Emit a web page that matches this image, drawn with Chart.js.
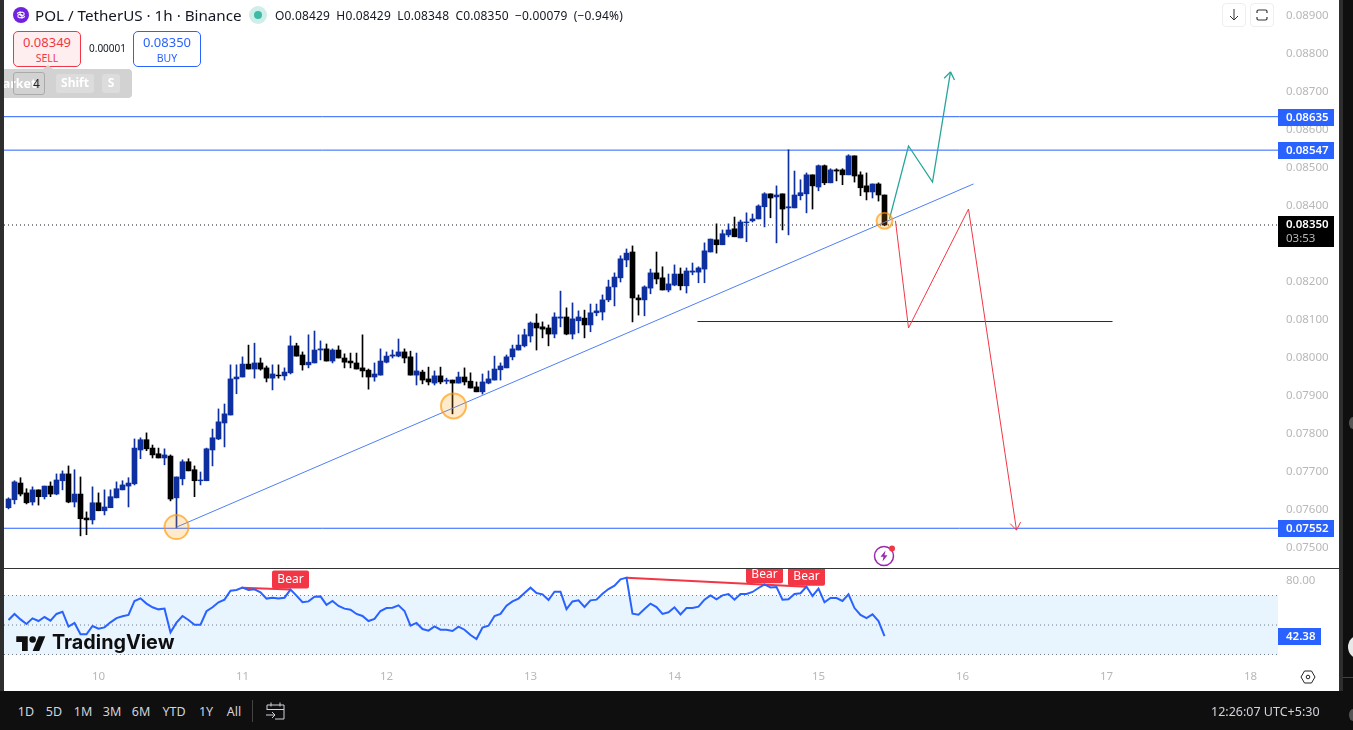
<!DOCTYPE html>
<html>
<head>
<meta charset="utf-8">
<script src="https://cdn.jsdelivr.net/npm/chart.js"></script>
<style>
	html, body { margin: 0; padding: 0; background: #fff; overflow: hidden; }
	body { width: 1353px; height: 730px; position: relative; font-family: "Noto Sans", sans-serif; color: #131722; }
	.abs { position: absolute; white-space: nowrap; }
	canvas { position: absolute; display: block; }
	#sell, #buy { top: 31px; width: 66px; height: 32px; border-radius: 5px; text-align: center; font-size: 12px; line-height: 14px; padding-top: 2px; }
	#sell { left: 13px; border: 1px solid #f23645; background: #ffeeef; color: #f23645; }
	#buy { left: 133px; border: 1px solid #2962ff; background: #fff; color: #2962ff; }
	#sell b, #buy b { display: block; font-weight: 400; font-size: 13px; line-height: 17px; }
	#sell span, #buy span { font-size: 10.5px; }
	.key { top: 74px; height: 19px; line-height: 18px; background: #dcdcdc; border-radius: 3px; color: #fff; font-size: 12px; font-weight: 700; text-align: center; }
	.btn { top: 3px; width: 22px; height: 22px; border: 1px solid #eee; border-radius: 4px; background: #fff; }
	.range { top: 703px; font-size: 12.5px; color: #d1d4dc; transform: translateX(-50%); }
</style>
</head>
<body>
<canvas id="price" width="1335" height="568" style="left:4px;top:0"></canvas>
<canvas id="rsi" width="1335" height="122" style="left:4px;top:569px"></canvas>

<!-- window frame -->
<div class="abs" style="left:0;top:0;width:4px;height:691px;background:#2e2e2e"></div>
<div class="abs" style="left:1339px;top:0;width:4px;height:691px;background:#2e2e2e"></div>
<div class="abs" style="left:1343px;top:0;width:10px;height:730px;background:#0f0f0f"></div>
<div class="abs" style="left:0;top:691px;width:1343px;height:39px;background:#0f0f0f"></div>
<div class="abs" style="left:4px;top:568px;width:1335px;height:1px;background:#333"></div>
<div class="abs" style="left:1349px;top:417px;width:8px;height:12px;border-radius:50%;background:#555"></div>
<div class="abs" style="left:1348px;top:635px;width:24px;height:24px;border-radius:50%;background:#e8e8e8"></div>
<div class="abs" style="left:1343px;top:677px;width:10px;height:1px;background:#444"></div>
<div class="abs" style="left:1349px;top:709px;width:8px;height:12px;border-radius:50%;background:#555"></div>

<!-- legend -->
<svg class="abs" style="left:13px;top:7px" width="16" height="16" viewBox="0 0 16 16">
	<circle cx="8" cy="8" r="8" fill="#6f23e0"/>
	<path d="M4 6.5l3-1.5v3l2 1 2-1v-2l-2-1-2 1M12 9.5l-3 1.5v-3l-2-1-2 1v2l2 1 2-1" fill="none" stroke="#fff" stroke-width="1.1"/>
</svg>
<div class="abs" id="title" style="left:35px;top:5px;font-size:15.2px;line-height:20px">POL / TetherUS · 1h · Binance</div>
<div class="abs" style="left:249px;top:6px;width:18px;height:18px;border-radius:50%;background:#cfeee8"></div>
<div class="abs" style="left:254px;top:11px;width:8px;height:8px;border-radius:50%;background:#3dbba6"></div>
<div class="abs" id="ohlc" style="left:275px;top:7px;font-size:12px;line-height:17px;word-spacing:3px;letter-spacing:.16px">O0.08429 H0.08429 L0.08348 C0.08350 −0.00079 (−0.94%)</div>

<div class="abs" id="sell"><b>0.08349</b><span>SELL</span></div>
<div class="abs" style="left:89px;top:41px;font-size:10px;line-height:14px">0.00001</div>
<div class="abs" id="buy"><b>0.08350</b><span>BUY</span></div>

<!-- order bar -->
<div class="abs" style="left:4px;top:69px;width:128px;height:29px;background:#d2d2d2;border-radius:0 4px 4px 0;overflow:hidden">
	<div class="abs" style="left:-13px;top:6px;font-size:12.5px;font-weight:700;color:#fff">Market</div>
	<div class="abs" style="left:9px;top:3px;width:30px;height:21px;border:1px solid #aaa;border-radius:3px;font-size:12px;line-height:21px;text-indent:19px;color:#222">4</div>
</div>
<div class="abs" style="left:43px;top:65px;width:0;height:0;border-left:5px solid transparent;border-right:5px solid transparent;border-bottom:4px solid #d2d2d2"></div>
<div class="abs key" style="left:56px;width:38px">Shift</div>
<div class="abs key" style="left:102px;width:18px">S</div>

<!-- top right buttons -->
<div class="abs btn" style="left:1222px">
	<svg width="22" height="22" viewBox="0 0 22 22"><path d="M11 5v11M7 12l4 4 4-4" fill="none" stroke="#333" stroke-width="1"/></svg>
</div>
<div class="abs btn" style="left:1250px">
	<svg width="22" height="22" viewBox="0 0 22 22"><path d="M6 9V7.5A1.5 1.5 0 0 1 7.5 6h7A1.5 1.5 0 0 1 16 7.5V9M6 13v1.5A1.5 1.5 0 0 0 7.5 16h7a1.5 1.5 0 0 0 1.5-1.5V13" fill="none" stroke="#333" stroke-width="1.2"/></svg>
</div>

<!-- alert icon -->
<svg class="abs" style="left:870px;top:542px" width="28" height="28" viewBox="0 0 28 28">
	<circle cx="14" cy="14" r="9.5" fill="none" stroke="#9c27b0" stroke-width="1.5"/>
	<path d="M15.5 8.5l-5 6.2h3l-1 4.8 5-6.2h-3z" fill="#9c27b0"/>
	<circle cx="22" cy="6.5" r="3" fill="#f23645"/>
</svg>

<!-- watermark -->
<svg class="abs" style="left:15px;top:633px" width="32" height="18" viewBox="0 0 36 22">
	<path d="M14 22H7V11H0V4h14v18zM28 22h-8l7.5-18h8L28 22z" fill="#0f0f0f"/><circle cx="20" cy="8" r="4" fill="#0f0f0f"/>
</svg>
<div class="abs" id="wm" style="left:52px;top:629px;font-family:Inter,sans-serif;font-size:19.8px;line-height:26px;font-weight:700;color:#0f0f0f">TradingView</div>

<!-- gear -->
<svg class="abs" style="left:1300px;top:669px" width="16" height="16" viewBox="0 0 16 16">
	<path d="M4.5 2h7L15 8l-3.5 6h-7L1 8z" fill="none" stroke="#222" stroke-width="1"/><circle cx="8" cy="8" r="1.8" fill="none" stroke="#222"/>
</svg>

<!-- bottom bar -->
<div class="abs range" style="left:26px">1D</div>
<div class="abs range" style="left:54px">5D</div>
<div class="abs range" style="left:83px">1M</div>
<div class="abs range" style="left:112px">3M</div>
<div class="abs range" style="left:141px">6M</div>
<div class="abs range" style="left:174px">YTD</div>
<div class="abs range" style="left:206px">1Y</div>
<div class="abs range" style="left:234px">All</div>
<div class="abs" style="left:252px;top:700px;width:1px;height:22px;background:#444"></div>
<svg class="abs" style="left:265px;top:700px" width="22" height="22" viewBox="0 0 22 22">
	<path d="M2 10V5h17v14H10M2 9.5h17M6 2.5v4M15 2.5v4M1 15h9M7 12l3 3-3 3" fill="none" stroke="#d1d4dc" stroke-width="1"/>
</svg>
<div class="abs" id="clock" style="left:1211px;top:703px;font-size:12.5px;color:#d1d4dc">12:26:07 UTC+5:30</div>

<script>
// candles, hour 0 is the 10th, one entry per hour
const firstHour = -15;
const opens = [
	0.07606,0.07627,0.07671,0.07645,0.07621,0.07653,0.07635,0.07663,0.07642,0.07677,
	0.07695,0.07621,0.07642,0.07579,0.07574,0.07619,0.07598,0.07606,0.07632,0.07653,
	0.07663,0.07669,0.07758,0.07785,0.07763,0.07748,0.07737,0.07742,0.07632,0.07682,
	0.07727,0.07706,0.07677,0.07677,0.07758,0.07787,0.07829,0.07850,0.07945,0.07950,
	0.07984,0.07971,0.07987,0.07974,0.07947,0.07955,0.07953,0.07961,0.08032,0.08008,
	0.07982,0.07987,0.08021,0.08024,0.07992,0.08021,0.08000,0.07992,0.07987,0.07974,
	0.07968,0.07950,0.07955,0.07989,0.08005,0.08005,0.08016,0.08003,0.07955,0.07963,
	0.07945,0.07934,0.07953,0.07939,0.07942,0.07934,0.07950,0.07939,0.07924,0.07911,
	0.07934,0.07942,0.07969,0.07974,0.08003,0.08021,0.08032,0.08058,0.08092,0.08082,
	0.08079,0.08063,0.08105,0.08108,0.08063,0.08098,0.08105,0.08087,0.08119,0.08121,
	0.08153,0.08187,0.08211,0.08258,0.08279,0.08158,0.08153,0.08184,0.08224,0.08211,
	0.08179,0.08192,0.08221,0.08190,0.08226,0.08226,0.08234,0.08279,0.08311,0.08298,
	0.08324,0.08340,0.08316,0.08356,0.08361,0.08366,0.08398,0.08432,0.08424,0.08432,
	0.08395,0.08395,0.08427,0.08432,0.08482,0.08450,0.08506,0.08461,0.08495,0.08495,
	0.08482,0.08532,0.08482,0.08453,0.08437,0.08458,0.08429
];
const highs = [
	0.07632,0.07677,0.07685,0.07656,0.07661,0.07653,0.07663,0.07674,0.07695,0.07703,
	0.07716,0.07706,0.07687,0.07595,0.07661,0.07645,0.07653,0.07653,0.07674,0.07677,
	0.07685,0.07787,0.07790,0.07803,0.07771,0.07763,0.07761,0.07745,0.07687,0.07732,
	0.07735,0.07716,0.07700,0.07763,0.07813,0.07866,0.07879,0.07982,0.07982,0.08003,
	0.08034,0.08039,0.08000,0.07979,0.07982,0.07982,0.07974,0.08058,0.08039,0.08016,
	0.08061,0.08071,0.08045,0.08037,0.08024,0.08032,0.08011,0.08013,0.08013,0.08061,
	0.07971,0.07987,0.08024,0.08016,0.08021,0.08050,0.08024,0.08018,0.08013,0.07968,
	0.07976,0.07966,0.07976,0.07947,0.07942,0.07963,0.07974,0.07961,0.07937,0.07958,
	0.07966,0.08005,0.07987,0.08008,0.08034,0.08061,0.08076,0.08095,0.08116,0.08095,
	0.08087,0.08119,0.08176,0.08132,0.08145,0.08124,0.08126,0.08142,0.08142,0.08166,
	0.08205,0.08224,0.08269,0.08287,0.08295,0.08166,0.08190,0.08234,0.08279,0.08240,
	0.08221,0.08245,0.08237,0.08237,0.08250,0.08240,0.08303,0.08313,0.08353,0.08337,
	0.08353,0.08371,0.08363,0.08382,0.08379,0.08403,0.08435,0.08432,0.08453,0.08432,
	0.08548,0.08492,0.08469,0.08487,0.08482,0.08508,0.08508,0.08498,0.08498,0.08498,
	0.08535,0.08532,0.08490,0.08487,0.08458,0.08461,0.08429
];
const lows = [
	0.07603,0.07616,0.07637,0.07616,0.07613,0.07613,0.07629,0.07635,0.07640,0.07653,
	0.07619,0.07608,0.07532,0.07535,0.07563,0.07598,0.07587,0.07606,0.07632,0.07653,
	0.07608,0.07666,0.07735,0.07756,0.07737,0.07737,0.07719,0.07624,0.07553,0.07666,
	0.07703,0.07635,0.07666,0.07677,0.07716,0.07785,0.07766,0.07850,0.07906,0.07950,
	0.07971,0.07947,0.07968,0.07937,0.07916,0.07947,0.07942,0.07958,0.08005,0.07968,
	0.07974,0.07987,0.07995,0.07992,0.07987,0.08000,0.07974,0.07974,0.07971,0.07950,
	0.07918,0.07939,0.07955,0.07987,0.08000,0.08003,0.07987,0.07955,0.07929,0.07932,
	0.07929,0.07929,0.07932,0.07932,0.07853,0.07934,0.07929,0.07921,0.07911,0.07905,
	0.07932,0.07942,0.07942,0.07974,0.07995,0.08021,0.08029,0.08042,0.08021,0.08053,
	0.08032,0.08053,0.08082,0.08061,0.08050,0.08066,0.08053,0.08069,0.08111,0.08100,
	0.08148,0.08137,0.08200,0.08240,0.08095,0.08113,0.08111,0.08169,0.08195,0.08179,
	0.08174,0.08190,0.08179,0.08171,0.08219,0.08198,0.08198,0.08279,0.08276,0.08298,
	0.08319,0.08319,0.08316,0.08306,0.08358,0.08366,0.08345,0.08369,0.08303,0.08337,
	0.08324,0.08395,0.08416,0.08382,0.08392,0.08440,0.08456,0.08461,0.08466,0.08456,
	0.08482,0.08463,0.08427,0.08416,0.08421,0.08413,0.08348
];
const closes = [
	0.07629,0.07674,0.07642,0.07619,0.07653,0.07635,0.07663,0.07642,0.07679,0.07695,
	0.07621,0.07642,0.07577,0.07574,0.07619,0.07598,0.07608,0.07635,0.07656,0.07666,
	0.07671,0.07763,0.07785,0.07761,0.07745,0.07737,0.07745,0.07629,0.07687,0.07727,
	0.07703,0.07677,0.07679,0.07761,0.07790,0.07832,0.07853,0.07945,0.07950,0.07984,
	0.07971,0.07987,0.07971,0.07947,0.07958,0.07953,0.07963,0.08032,0.08005,0.07982,
	0.07989,0.08021,0.08024,0.07992,0.08021,0.08000,0.07989,0.07987,0.07971,0.07966,
	0.07950,0.07958,0.07992,0.08005,0.08008,0.08016,0.08000,0.07955,0.07966,0.07942,
	0.07937,0.07953,0.07937,0.07942,0.07934,0.07950,0.07937,0.07921,0.07911,0.07937,
	0.07945,0.07971,0.07979,0.08003,0.08024,0.08034,0.08061,0.08092,0.08079,0.08076,
	0.08063,0.08108,0.08108,0.08063,0.08103,0.08108,0.08087,0.08119,0.08124,0.08153,
	0.08187,0.08213,0.08261,0.08276,0.08158,0.08153,0.08187,0.08224,0.08208,0.08179,
	0.08195,0.08221,0.08190,0.08229,0.08229,0.08237,0.08282,0.08313,0.08298,0.08327,
	0.08337,0.08319,0.08358,0.08358,0.08366,0.08400,0.08432,0.08421,0.08429,0.08392,
	0.08398,0.08429,0.08435,0.08482,0.08453,0.08506,0.08461,0.08495,0.08492,0.08482,
	0.08532,0.08479,0.08448,0.08437,0.08458,0.08429,0.08350
];

const rsiValues = [
	53.4,57.5,53.8,50.7,54.5,52.7,55.4,52.9,57.5,59.0,
	48.9,51.4,43.7,43.7,49.3,47.5,48.4,51.8,54.7,55.9,
	56.8,66.3,68.1,64.5,62.0,60.6,61.1,45.0,51.6,56.1,
	53.4,50.2,50.2,59.3,62.0,65.4,67.2,73.3,73.7,75.3,
	73.7,74.2,72.1,67.9,68.5,67.9,68.5,74.0,69.9,65.4,
	66.0,69.2,69.4,63.6,66.3,62.9,61.1,60.4,57.5,56.1,
	52.7,54.1,59.5,61.5,61.7,63.3,59.5,49.5,51.4,47.3,
	46.2,49.1,46.8,46.8,45.9,48.9,46.8,43.2,40.5,48.2,
	49.5,56.1,57.5,63.1,66.0,67.9,71.7,75.3,71.7,70.8,
	66.9,72.6,72.6,60.8,66.0,66.7,62.2,66.7,67.2,71.2,
	74.4,76.7,81.0,82.1,57.7,57.0,60.8,64.5,62.2,57.5,
	58.6,62.0,57.2,61.5,61.5,62.4,67.2,70.1,67.4,70.1,
	71.0,67.2,71.0,71.0,72.4,75.1,77.6,75.5,75.8,67.2,
	67.4,71.0,71.5,76.0,69.7,74.6,65.4,68.3,68.3,66.3,
	70.8,61.5,56.8,54.7,57.2,52.7,42.38
];
const rsiBands = [70, 50, 30];
const rsiTicks = [80];
const rsiLast = 42.38;

// axes
const xMin = -15.75, xMax = 196.5833;
const priceMin = 0.074474, priceMax = 0.089421;
const rsiMin = 22.88, rsiMax = 87.97;
const dayStep = 24, firstDay = 10;

// horizontal levels and drawings, x in hours, y in price
const levels = [0.08635, 0.08547, 0.07552];
const lastPrice = 0.0835;
const countdown = "03:53";
const targetLine = [[99.83, 0.08096], [169, 0.08096]];
const trendLine = [[13, 0.07555], [145.83, 0.08458]];
const greenPath = [[131.83, 0.08366], [135, 0.08558], [139, 0.08463], [142, 0.08753]];
const redPath = [[132.83, 0.08361], [135, 0.08079], [145, 0.08392], [153, 0.07547]];
const touches = [[13, 0.07555], [59.17, 0.07874], [131, 0.08361]];
const touchSizes = [12, 12.5, 8];
const divergences = [[[23.8, 75.3], [32, 74.0]], [[88, 82.1], [118, 76.0]]];
const bearHours = [32, 111, 118];

const blue = "#0d2f9f", black = "#000000", tagBlue = "#2962ff", red = "#f23645", teal = "#26a69a";
const grey = "#b8b8b8";

Chart.defaults.font.family = '"Noto Sans", sans-serif';
Chart.defaults.font.size = 11.5;
Chart.defaults.animation = false;

const hours = opens.map((_, i) => firstHour + i);
const toXY = (pts) => pts.map((p) => ({ x: p[0], y: p[1] }));
const colors = opens.map((o, i) => closes[i] >= o ? blue : black);
const lineDs = (pts, color, extra) => Object.assign({
	type: "line", data: toXY(pts), borderColor: color, borderWidth: 1,
	pointRadius: 0, fill: false, tension: 0, order: 1
}, extra);

function fixAxis(width) {
	return function (s) {
		s.width = width;
		s.paddingTop = 0;
		s.paddingBottom = 0;
	};
}

// drawn after the datasets: arrow heads and axis tags
const tradeMarks = {
	id: "tradeMarks",
	afterDraw(chart) {
		const ctx = chart.ctx, y = chart.scales.y, area = chart.chartArea;
		chart.data.datasets.forEach((ds, n) => {
			if (!ds.arrow) return;
			const pts = chart.getDatasetMeta(n).data;
			const a = pts[pts.length - 2], b = pts[pts.length - 1];
			const ang = Math.atan2(b.y - a.y, b.x - a.x);
			ctx.save();
			ctx.strokeStyle = ds.borderColor;
			ctx.lineWidth = ds.borderWidth;
			ctx.beginPath();
			[-0.62, 0.62].forEach((d) => {
				ctx.moveTo(b.x, b.y);
				ctx.lineTo(b.x - 9 * Math.cos(ang + d), b.y - 9 * Math.sin(ang + d));
			});
			ctx.stroke();
			ctx.restore();
		});
		ctx.save();
		ctx.textBaseline = "middle";
		ctx.textAlign = "left";
		ctx.font = '600 11.5px "Noto Sans", sans-serif';
		levels.forEach((v) => {
			const py = Math.round(y.getPixelForValue(v));
			ctx.fillStyle = tagBlue;
			ctx.fillRect(area.right, py - 8, 56, 17);
			ctx.fillStyle = "#fff";
			ctx.fillText(v.toFixed(5), area.right + 8, py + 0.5);
		});
		const py = Math.round(y.getPixelForValue(lastPrice));
		ctx.fillStyle = "#000";
		ctx.fillRect(area.right, py - 9, 56, 31);
		ctx.fillStyle = "#fff";
		ctx.fillText(lastPrice.toFixed(5), area.right + 8, py);
		ctx.font = '11.5px "Noto Sans", sans-serif';
		ctx.fillStyle = "#b8b8b8";
		ctx.fillText(countdown, area.right + 8, py + 14);
		ctx.restore();
	}
};

new Chart(document.getElementById("price"), {
	type: "bar",
	data: {
		datasets: [
			lineDs(touches, "rgba(255,152,0,0.65)", {
				showLine: false, order: 0, pointRadius: touchSizes, pointBorderWidth: 2,
				pointBackgroundColor: "rgba(255,152,0,0.2)", pointBorderColor: "rgba(255,152,0,0.65)"
			}),
			lineDs(greenPath, teal, { arrow: true, borderWidth: 1.3 }),
			lineDs(redPath, red, { arrow: true }),
			lineDs(trendLine, "#4f7ff5"),
			lineDs(targetLine, "#1c2a4a"),
			lineDs([[xMin, lastPrice], [xMax, lastPrice]], "#131722", { borderDash: [1, 3] , order: 5 }),
			...levels.map((v) => lineDs([[xMin, v], [xMax, v]], tagBlue, { order: 5 })),
			{
				data: hours.map((h, i) => ({ x: h, y: [opens[i], closes[i]] })),
				backgroundColor: colors, barThickness: 5, grouped: false, order: 2
			},
			{
				data: hours.map((h, i) => ({ x: h, y: [lows[i], highs[i]] })),
				backgroundColor: colors, barThickness: 1, grouped: false, order: 3
			}
		]
	},
	plugins: [tradeMarks],
	options: {
		responsive: false,
		layout: { padding: 0, autoPadding: false },
		plugins: { legend: { display: false }, tooltip: { enabled: false } },
		scales: {
			x: { type: "linear", min: xMin, max: xMax, offset: false, display: false, grid: { display: false } },
			y: {
				position: "right", min: priceMin, max: priceMax, afterFit: fixAxis(61),
				grid: { display: false, drawTicks: false }, border: { display: false },
				ticks: {
					stepSize: 0.001, includeBounds: false, padding: 8, color: grey, autoSkip: false,
					callback: (v) => v.toFixed(5)
				}
			}
		}
	}
});

const rsiMarks = {
	id: "rsiMarks",
	afterDraw(chart) {
		const ctx = chart.ctx, x = chart.scales.x, y = chart.scales.y, area = chart.chartArea;
		ctx.save();
		ctx.textAlign = "center";
		ctx.textBaseline = "middle";
		ctx.font = '12px "Noto Sans", sans-serif';
		bearHours.forEach((h) => {
			const px = x.getPixelForValue(h);
			const py = y.getPixelForValue(rsiValues[h - firstHour]);
			ctx.fillStyle = red;
			ctx.beginPath();
			ctx.roundRect(px - 18.5, py - 19, 37, 18, 2);
			ctx.fill();
			ctx.fillStyle = "#fff";
			ctx.fillText("Bear", px, py - 10);
		});
		const py = Math.round(y.getPixelForValue(rsiLast));
		ctx.fillStyle = tagBlue;
		ctx.fillRect(area.right, py - 8, 43, 17);
		ctx.fillStyle = "#fff";
		ctx.font = '600 11.5px "Noto Sans", sans-serif';
		ctx.textAlign = "left";
		ctx.fillText(rsiLast.toFixed(2), area.right + 8, py + 0.5);
		ctx.restore();
	}
};

new Chart(document.getElementById("rsi"), {
	type: "line",
	data: {
		datasets: [
			lineDs(hours.map((h, i) => [h, rsiValues[i]]), tagBlue, { borderWidth: 2, order: 0 }),
			...divergences.map((d) => lineDs(d, red, { borderWidth: 2, order: 0 })),
			lineDs([[xMin, rsiBands[0]], [xMax, rsiBands[0]]], "#787b86", {
				borderDash: [1, 3], fill: "+2", backgroundColor: "rgba(33,150,243,0.1)", order: 3
			}),
			lineDs([[xMin, rsiBands[1]], [xMax, rsiBands[1]]], "#787b86", { borderDash: [1, 3], order: 3 }),
			lineDs([[xMin, rsiBands[2]], [xMax, rsiBands[2]]], "#787b86", { borderDash: [1, 3], order: 3 })
		]
	},
	plugins: [rsiMarks],
	options: {
		responsive: false,
		layout: { padding: 0, autoPadding: false },
		plugins: { legend: { display: false }, tooltip: { enabled: false }, filler: { propagate: false } },
		scales: {
			x: {
				type: "linear", min: xMin, max: xMax, offset: false,
				afterFit: (s) => { s.height = 26; },
				grid: { display: false, drawTicks: false }, border: { display: false },
				ticks: {
					stepSize: dayStep, includeBounds: false, padding: 5, color: grey, maxRotation: 0,
					callback: (v) => firstDay + v / dayStep
				}
			},
			y: {
				position: "right", min: rsiMin, max: rsiMax, afterFit: fixAxis(61),
				afterBuildTicks: (s) => { s.ticks = rsiTicks.map((v) => ({ value: v })); },
				grid: { display: false, drawTicks: false }, border: { display: false },
				ticks: { padding: 8, color: grey, callback: (v) => v.toFixed(2) }
			}
		}
	}
});
</script>
</body>
</html>
